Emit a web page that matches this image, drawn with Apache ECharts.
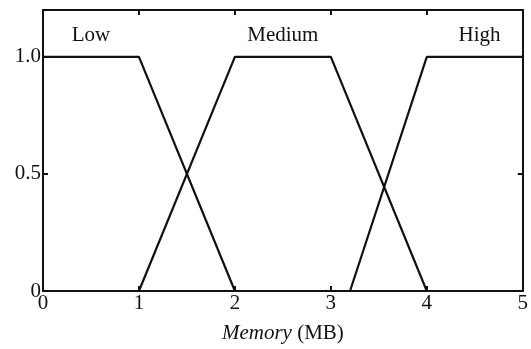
<!DOCTYPE html>
<html>
<head>
<meta charset="utf-8">
<script src="https://cdn.jsdelivr.net/npm/echarts@6/dist/echarts.min.js"></script>
<style>
  html, body { margin: 0; padding: 0; background: #fff; }
  #chart { width: 531px; height: 349px; }
</style>
</head>
<body>
<div id="chart"></div>
<script>
// Membership functions over memory size (MB)
const lowX = [0, 1, 2];
const lowY = [1, 1, 0];
const mediumX = [1, 2, 3, 4];
const mediumY = [0, 1, 1, 0];
const highX = [3.2, 4, 5];
const highY = [0, 1, 1];

// Set names and where they sit on the chart (data units)
const setNames = ['Low', 'Medium', 'High'];
const setNameX = [0.5, 2.5, 4.55];
const setNameY = [1.09, 1.09, 1.09];

const xTicks = [0, 1, 2, 3, 4, 5];
const yTicks = [0, 0.5, 1.0];

const zip = (xs, ys) => xs.map((x, i) => [x, ys[i]]);

const serif = '"Liberation Serif", "DejaVu Serif", serif';
const ink = '#111';
const lineStyle = { color: ink, width: 2.2 };
const frameLine = { show: true, onZero: false, lineStyle: { color: ink, width: 2 } };
const innerTick = { show: true, inside: true, length: 5, lineStyle: { color: ink, width: 2 } };

const chart = echarts.init(document.getElementById('chart'), null, { renderer: 'canvas' });

chart.setOption({
  animation: false,
  backgroundColor: '#fff',
  grid: { left: 43, right: 4, top: 10, bottom: 56 },
  xAxis: [
    {
      type: 'value', min: 0, max: 5, interval: 1,
      axisLine: frameLine,
      axisTick: innerTick,
      splitLine: { show: false },
      axisLabel: {
        fontFamily: serif, fontSize: 21, color: ink, margin: 2,
        formatter: v => (xTicks.includes(v) ? String(v) : '')
      },
      name: '{i|Memory} (MB)',
      nameLocation: 'middle', nameGap: 32,
      nameTextStyle: {
        fontFamily: serif, fontSize: 21, color: ink,
        rich: { i: { fontFamily: serif, fontSize: 21, fontStyle: 'italic', color: ink } }
      }
    },
    {
      type: 'value', min: 0, max: 5, interval: 1, position: 'top',
      axisLine: frameLine,
      axisTick: innerTick,
      axisLabel: { show: false },
      splitLine: { show: false }
    }
  ],
  yAxis: [
    {
      type: 'value', min: 0, max: 1.2, interval: 0.5,
      axisLine: frameLine,
      axisTick: innerTick,
      splitLine: { show: false },
      axisLabel: {
        fontFamily: serif, fontSize: 21, color: ink, margin: 2,
        formatter: v => {
          const hit = yTicks.find(t => Math.abs(t - v) < 1e-9);
          if (hit === undefined) return '';
          return hit === 0 ? '0' : hit.toFixed(1);
        }
      }
    },
    {
      type: 'value', min: 0, max: 1.2, interval: 0.5, position: 'right',
      axisLine: frameLine,
      axisTick: innerTick,
      axisLabel: { show: false },
      splitLine: { show: false }
    }
  ],
  series: [
    { name: 'Low', type: 'line', data: zip(lowX, lowY), symbol: 'none', lineStyle, z: 3 },
    { name: 'Medium', type: 'line', data: zip(mediumX, mediumY), symbol: 'none', lineStyle, z: 3 },
    { name: 'High', type: 'line', data: zip(highX, highY), symbol: 'none', lineStyle, z: 3 },
    {
      type: 'scatter', symbolSize: 0, silent: true,
      itemStyle: { opacity: 1, color: ink },
      data: setNames.map((n, i) => ({ value: [setNameX[i], setNameY[i]], name: n })),
      label: {
        show: true, position: 'inside', formatter: p => p.name,
        fontFamily: serif, fontSize: 21, color: ink, opacity: 1,
        textBorderWidth: 0, textBorderColor: 'transparent'
      }
    }
  ]
});
</script>
</body>
</html>
